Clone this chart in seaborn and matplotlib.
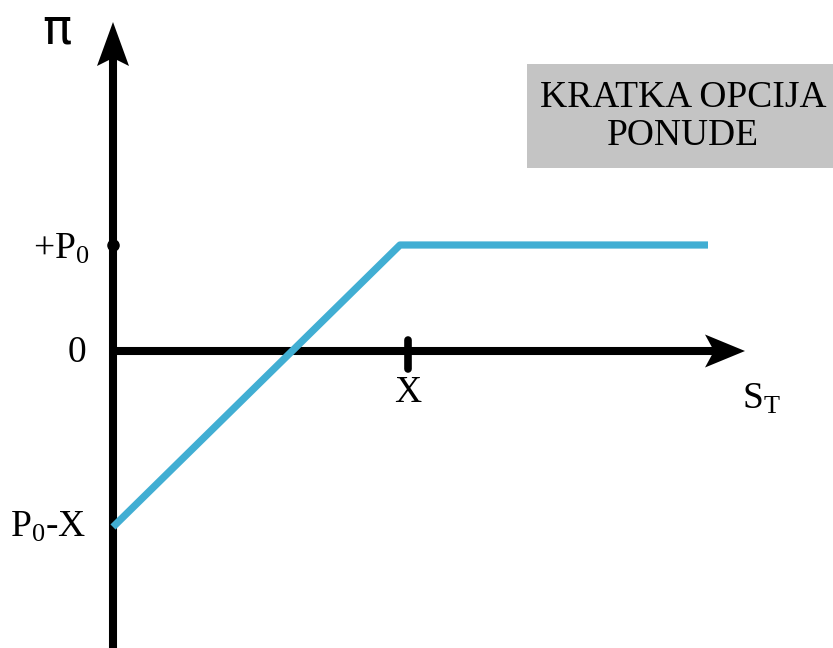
import matplotlib
matplotlib.use("Agg")
import matplotlib.pyplot as plt
import seaborn as sns
import pandas as pd

# ---- data (units: axis-relative) ----
st_values = [0, 287, 595]          # S_T
profit_values = [-176, 106, 106]   # profit pi
strike_x = 295                     # X tick position
premium_y = 106                    # +P0
lower_y = -176                     # P0 - X
y_tick_labels = ["+P$_{0}$", "0", "P$_{0}$-X"]
box_text = "KRATKA OPCIJA\nPONUDE"

sns.set_style("white")
plt.rcParams["mathtext.fontset"] = "custom"
plt.rcParams["mathtext.rm"] = "Liberation Serif"
plt.rcParams["mathtext.it"] = "Liberation Serif"
plt.rcParams["text.color"] = "black"

fig = plt.figure(figsize=(8.33, 6.48), dpi=100)
ax = fig.add_axes([0, 0, 1, 1])
ax.set_xlim(-113, 720)
ax.set_ylim(-297, 351)
ax.axis("off")

df = pd.DataFrame({"S_T": st_values, "profit": profit_values})
sns.lineplot(data=df, x="S_T", y="profit", ax=ax, color="#41AED3", lw=5.2,
             solid_capstyle="butt", zorder=3, sort=False)

lw_axis = 5.8
# y axis
ax.plot([0, 0], [-297, 295], color="black", lw=lw_axis, solid_capstyle="butt", zorder=2)
ax.fill([0, 16, 0, -16], [329, 285, 293, 285], color="black", zorder=2, lw=0)
# x axis
ax.plot([0, 604], [0, 0], color="black", lw=lw_axis, solid_capstyle="butt", zorder=2)
ax.fill([632, 592, 601, 592], [0, 16.5, 0, -16.5], color="black", zorder=2, lw=0)

# X tick
ax.plot([strike_x, strike_x], [-18, 11], color="black", lw=5.5, solid_capstyle="round", zorder=2)
# +P0 dot
ax.plot([0], [premium_y], marker="o", ms=8, color="black", zorder=4)

serif = "Liberation Serif"
fs = 27
ax.text(-24, premium_y - 4, y_tick_labels[0], ha="right", va="center", fontsize=fs, family=serif)
ax.text(-27, -2, y_tick_labels[1], ha="right", va="center", fontsize=fs, family=serif)
ax.text(-27, lower_y, y_tick_labels[2], ha="right", va="center", fontsize=fs, family=serif)
ax.text(strike_x, -42, "X", ha="center", va="center", fontsize=fs, family=serif)
ax.text(648, -48, "S$_{\\mathrm{T}}$", ha="center", va="center", fontsize=fs, family=serif)
ax.text(-56, 322, "π", ha="center", va="center", fontsize=35, family="DejaVu Sans")

# gray box
ax.add_patch(plt.Rectangle((414, 183), 310, 104, color="#C4C4C4", lw=0, zorder=1))
ax.text(570, 234, box_text, ha="center", va="center", fontsize=27, family=serif,
        linespacing=1.15, zorder=2)

fig.savefig("out.png", dpi=100)
